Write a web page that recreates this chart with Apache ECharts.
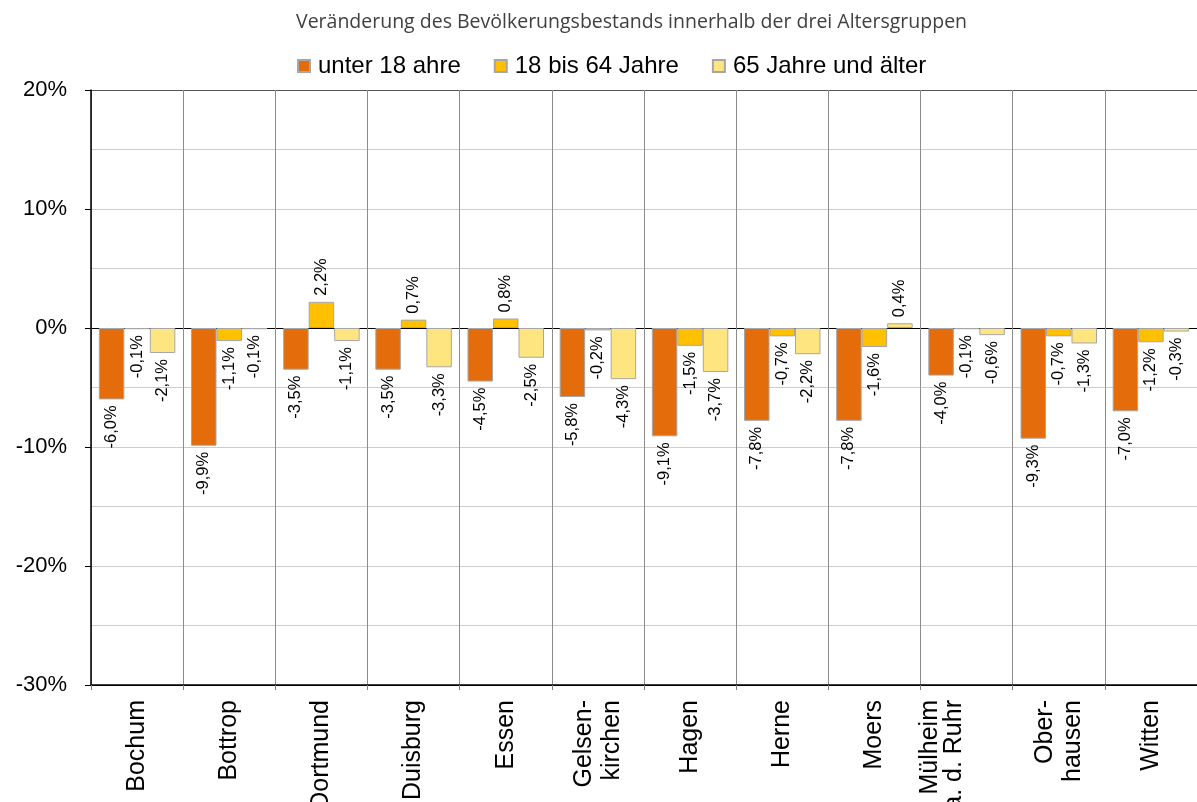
<!DOCTYPE html>
<html>
<head>
<meta charset="utf-8">
<script src="https://cdn.jsdelivr.net/npm/echarts@6/dist/echarts.min.js"></script>
<style>html,body{margin:0;padding:0;background:#fff;overflow:hidden}#c{width:1197px;height:802px}</style>
</head>
<body>
<div id="c"></div>
<script>
const categories = ['Bochum', 'Bottrop', 'Dortmund', 'Duisburg', 'Essen', 'Gelsen-\nkirchen', 'Hagen', 'Herne', 'Moers', 'Mülheim\na. d. Ruhr', 'Ober-\nhausen', 'Witten'];
const seriesNames = ['unter 18 ahre', '18 bis 64 Jahre', '65 Jahre und älter'];
const under18 = [-6.0, -9.9, -3.5, -3.5, -4.5, -5.8, -9.1, -7.8, -7.8, -4.0, -9.3, -7.0];
const age18to64 = [-0.1, -1.1, 2.2, 0.7, 0.8, -0.2, -1.5, -0.7, -1.6, -0.1, -0.7, -1.2];
const age65plus = [-2.1, -0.1, -1.1, -3.3, -2.5, -4.3, -3.7, -2.2, 0.4, -0.6, -1.3, -0.3];
const yTicks = [-30, -20, -10, 0, 10, 20];
const titleText = 'Veränderung des Bevölkerungsbestands innerhalb der drei Altersgruppen';

const colors = ['#E46C0A', '#FFC000', '#FFE57F'];
const fmt = v => v.toFixed(1).replace('.', ',') + '%';
// label style tweak for the two-line label that sits left of its category centre
const labelStyleTweak = { 'Mülheim\na. d. Ruhr': { verticalAlign: 'bottom', lineHeight: 24 } };

function mkData(arr) {
  return arr.map(v => ({
    value: v,
    label: v >= 0 ? { align: 'left', verticalAlign: 'middle' } : { align: 'right', verticalAlign: 'middle' }
  }));
}

const chart = echarts.init(document.getElementById('c'), null, { renderer: 'canvas' });
const valuesList = [under18, age18to64, age65plus];
chart.setOption({
  animation: false,
  backgroundColor: '#fff',
  title: {
    text: titleText,
    left: 296,
    top: 12,
    padding: 0,
    textStyle: { fontFamily: 'Open Sans', fontSize: 19.5, fontWeight: 'normal', color: '#404040' }
  },
  legend: {
    data: seriesNames,
    left: 297,
    top: 54,
    padding: 0,
    itemWidth: 12,
    itemHeight: 12,
    itemGap: 33,
    icon: 'rect',
    textStyle: { fontFamily: 'Liberation Sans', fontSize: 24, color: '#000', padding: [0, 0, 0, 3] }
  },
  grid: { left: 91, right: 0, top: 90, bottom: 117, containLabel: false, outerBoundsMode: 'none' },
  xAxis: {
    type: 'category',
    data: categories.map(c => labelStyleTweak[c] ? { value: c, textStyle: labelStyleTweak[c] } : c),
    boundaryGap: true,
    axisLine: { show: true, onZero: false, lineStyle: { color: '#000', width: 1.5 } },
    axisTick: { show: true, length: 5, lineStyle: { color: '#808080' } },
    splitLine: { show: true, lineStyle: { color: '#8c8c8c', width: 1 } },
    axisLabel: {
      rotate: 90,
      interval: 0,
      margin: 15,
      fontFamily: 'Liberation Sans',
      fontSize: 25,
      color: '#000',
      lineHeight: 28
    }
  },
  yAxis: {
    type: 'value',
    min: yTicks[0],
    max: yTicks[yTicks.length - 1],
    interval: 10,
    axisLine: { show: true, lineStyle: { color: '#000', width: 1.5 } },
    axisTick: { show: true, length: 6, lineStyle: { color: '#000' } },
    axisLabel: {
      margin: 24,
      fontFamily: 'Liberation Sans',
      fontSize: 22,
      color: '#000',
      formatter: v => v + '%'
    },
    splitLine: {
      show: true,
      lineStyle: { color: ['#000', '#cccccc', '#cccccc', '#000', '#cccccc', '#555555'], width: 1 }
    },
    minorTick: { show: false, splitNumber: 2 },
    minorSplitLine: { show: true, lineStyle: { color: '#cccccc', width: 1 } }
  },
  series: seriesNames.map((name, i) => ({
    name: name,
    type: 'bar',
    data: mkData(valuesList[i]),
    barGap: '0%',
    barCategoryGap: '17%',
    itemStyle: { color: colors[i], borderColor: '#a6a6a6', borderWidth: 1 },
    label: {
      show: true,
      position: 'outside',
      rotate: 90,
      distance: 6,
      fontFamily: 'Liberation Sans',
      fontSize: 16.5,
      color: '#000',
      formatter: p => fmt(p.value)
    }
  }))
});
</script>
</body>
</html>
